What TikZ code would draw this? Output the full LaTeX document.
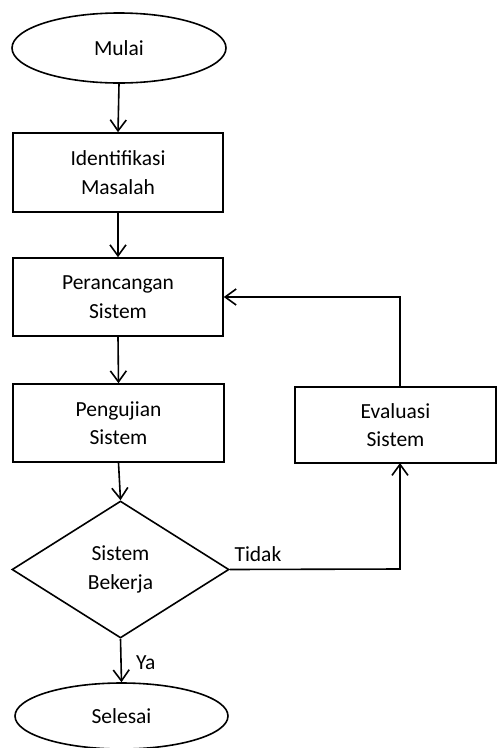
\documentclass[tikz,border=0pt]{standalone}
\usepackage{fontspec}
\setmainfont{Carlito}
\usetikzlibrary{shapes.geometric,arrows.meta}
\begin{document}
\begin{tikzpicture}[x=1pt,y=-1pt,
  every node/.style={font=\fontsize{21.5}{28.5}\selectfont},
  base/.style={draw=black,line width=1.6pt,inner sep=0pt,align=center},
  term/.style={base,ellipse},
  procbox/.style={base,rectangle},
  decide/.style={base,diamond,aspect=1.58},
  conn/.style={line width=1.6pt,-{Straight Barb[length=11pt,width=16pt,line width=1.6pt]}},
  plain/.style={line width=1.6pt}]
\useasboundingbox (0,0) rectangle (497,748);
\clip (0,0) rectangle (497,748);
\node[term,minimum width=214pt,minimum height=70pt] (start) at (119,48) {Mulai};
\node[procbox,minimum width=210pt,minimum height=79pt] (ident) at (118,172.5) {Identifikasi\\Masalah};
\node[procbox,minimum width=210pt,minimum height=78pt] (rancang) at (118,297) {Perancangan\\Sistem};
\node[procbox,minimum width=211pt,minimum height=78pt] (uji) at (118.5,423) {Pengujian\\Sistem};
\node[decide,minimum width=217pt,minimum height=137pt] (kerja) at (120.5,569.5) {Sistem\\Bekerja};
\node[term,minimum width=213pt,minimum height=66pt] (selesai) at (121.5,716) {Selesai};
\node[procbox,minimum width=201pt,minimum height=76pt] (eval) at (395.5,425) {Evaluasi\\Sistem};
\coordinate (evtop) at (400,387);
\coordinate (evbot) at (400,463);
\coordinate (c1) at (400,569);
\coordinate (c2) at (400,297);

\draw[conn] (start.south) -- (ident.north);
\draw[conn] (ident.south) -- (rancang.north);
\draw[conn] (rancang.south) -- (uji.north);
\draw[conn] (uji.south) -- (kerja.north);
\draw[conn] (kerja.south) -- (selesai.north) node[midway,right,xshift=11pt,yshift=-2pt] (ya) {Ya};
\draw[conn] (kerja.east) -- (c1) -- (evbot);
\draw[conn] (evtop) -- (c2) -- (rancang.east);
\node[anchor=base west] (tidak) at (231,561) {Tidak};
\end{tikzpicture}
\end{document}
